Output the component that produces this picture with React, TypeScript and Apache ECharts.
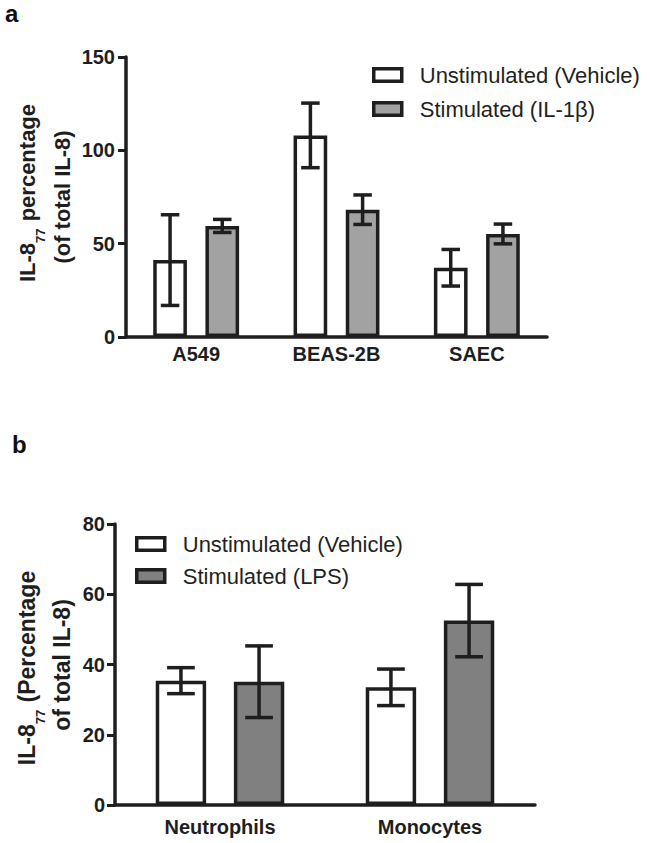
import React, { useEffect, useRef } from "react";
import * as echarts from "echarts";

// ---- Panel a data ----
const catsA = ["A549", "BEAS-2B", "SAEC"];
const unstimA = [41.2, 108, 37.1];
const unstimAErr = [24.3, 17.3, 9.8];
const stimA = [59.5, 68.2, 55.2];
const stimAErr = [3.5, 7.9, 5.3];
const yTicksA = { min: 0, max: 150, interval: 50 };
const namesA = ["Unstimulated (Vehicle)", "Stimulated (IL-1β)"];

// ---- Panel b data ----
const catsB = ["Neutrophils", "Monocytes"];
const unstimB = [35.4, 33.5];
const unstimBErr = [3.7, 5.2];
const stimB = [35.1, 52.5];
const stimBErr = [10.2, 10.3];
const yTicksB = { min: 0, max: 80, interval: 20 };
const namesB = ["Unstimulated (Vehicle)", "Stimulated (LPS)"];

const FONT = "'Liberation Sans', Arial, Helvetica, sans-serif";
const INK = "#1e1e1e";
const WHITE = "#ffffff";
const GRAY_A = "#a2a2a3";
const GRAY_B = "#7f807f";
const BAR_W = "24%";
const BAR_GAP = "55%";
const LINE_W = 3.5;

function errData(means: number[], errs: number[]) {
  return means.map((m, i) => [i, m, errs[i]]);
}

function makeErrRender(side: number) {
  return (params: any, api: any) => {
    const idx = api.value(0);
    const mean = api.value(1);
    const e = api.value(2);
    const band = api.size([1, 0])[0];
    const off = side * band * 0.186;
    const halfCap = band * 0.066;
    const top = api.coord([idx, mean + e]);
    const bot = api.coord([idx, mean - e]);
    const x = top[0] + off;
    const st = { stroke: INK, lineWidth: LINE_W, fill: null };
    return {
      type: "group",
      children: [
        { type: "line", shape: { x1: x, y1: top[1], x2: x, y2: bot[1] }, style: st },
        { type: "line", shape: { x1: x - halfCap, y1: top[1], x2: x + halfCap, y2: top[1] }, style: st },
        { type: "line", shape: { x1: x - halfCap, y1: bot[1], x2: x + halfCap, y2: bot[1] }, style: st },
      ],
    };
  };
}

const axisLabelBold = { color: INK, fontFamily: FONT, fontWeight: "bold", fontSize: 20 };

function yLabel(x: number, y: number, text: string, size: number) {
  return {
    type: "text",
    x,
    y,
    rotation: Math.PI / 2,
    style: {
      text,
      fill: INK,
      font: `bold ${size}px ${FONT}`,
      align: "center",
      verticalAlign: "middle",
      rich: {
        m: { fontFamily: FONT, fontWeight: "bold", fontSize: size, fill: INK, lineHeight: size },
        sub: {
          fontFamily: FONT,
          fontWeight: "bold",
          fontSize: 13,
          fill: INK,
          lineHeight: 13,
          verticalAlign: "top",
          padding: [18, 1, 0, 0],
        },
      },
    },
  };
}

export default function App() {
  const ref = useRef<HTMLDivElement>(null);
  useEffect(() => {
    if (!ref.current) return;
    const chart = echarts.init(ref.current, undefined, { renderer: "svg" });
    const legendBase = {
      orient: "vertical",
      icon: "rect",
      itemWidth: 28,
      itemHeight: 12.5,
      padding: 0,
      selectedMode: false,
      textStyle: {
        fontFamily: FONT,
        fontSize: 22,
        color: "#231f20",
        lineHeight: 22,
        padding: [0, 0, 0, 13],
      },
    };
    const option: any = {
      animation: false,
      backgroundColor: "#ffffff",
      grid: [
        { left: 126, top: 57, width: 421, height: 280 },
        { left: 115, top: 524, width: 420, height: 281 },
      ],
      legend: [
        {
          ...legendBase,
          left: 372,
          top: 64,
          itemGap: 12,
          data: [
            { name: namesA[0], itemStyle: { color: WHITE, borderColor: INK, borderWidth: LINE_W } },
            { name: namesA[1], itemStyle: { color: GRAY_A, borderColor: INK, borderWidth: LINE_W } },
          ],
        },
        {
          ...legendBase,
          left: 135,
          top: 533,
          itemGap: 10,
          data: [
            { name: namesB[0], itemStyle: { color: WHITE, borderColor: INK, borderWidth: LINE_W } },
            { name: namesB[1], itemStyle: { color: GRAY_B, borderColor: INK, borderWidth: LINE_W } },
          ],
        },
      ],
      xAxis: [
        {
          type: "category",
          gridIndex: 0,
          data: catsA,
          axisLine: { lineStyle: { color: INK, width: LINE_W } },
          axisTick: { alignWithLabel: true, length: 8, lineStyle: { color: INK, width: 3 } },
          axisLabel: { ...axisLabelBold, margin: 7 },
        },
        {
          type: "category",
          gridIndex: 1,
          data: catsB,
          axisLine: { lineStyle: { color: INK, width: LINE_W } },
          axisTick: { alignWithLabel: true, length: 8, lineStyle: { color: INK, width: 3 } },
          axisLabel: { ...axisLabelBold, margin: 12 },
        },
      ],
      yAxis: [
        {
          type: "value",
          gridIndex: 0,
          ...yTicksA,
          splitLine: { show: false },
          axisLine: { show: true, lineStyle: { color: INK, width: LINE_W } },
          axisTick: { show: true, length: 8, lineStyle: { color: INK, width: 3 } },
          axisLabel: { ...axisLabelBold, margin: 11 },
        },
        {
          type: "value",
          gridIndex: 1,
          ...yTicksB,
          splitLine: { show: false },
          axisLine: { show: true, lineStyle: { color: INK, width: LINE_W } },
          axisTick: { show: true, length: 8, lineStyle: { color: INK, width: 3 } },
          axisLabel: { ...axisLabelBold, margin: 10 },
        },
      ],
      series: [
        {
          type: "bar",
          name: namesA[0],
          xAxisIndex: 0,
          yAxisIndex: 0,
          data: unstimA,
          barWidth: BAR_W,
          barGap: BAR_GAP,
          itemStyle: { color: WHITE, borderColor: INK, borderWidth: LINE_W },
        },
        {
          type: "bar",
          name: namesA[1],
          xAxisIndex: 0,
          yAxisIndex: 0,
          data: stimA,
          barWidth: BAR_W,
          barGap: BAR_GAP,
          itemStyle: { color: GRAY_A, borderColor: INK, borderWidth: LINE_W },
        },
        {
          type: "custom",
          xAxisIndex: 0,
          yAxisIndex: 0,
          z: 5,
          data: errData(unstimA, unstimAErr),
          encode: { x: 0, y: 1 },
          renderItem: makeErrRender(-1),
        },
        {
          type: "custom",
          xAxisIndex: 0,
          yAxisIndex: 0,
          z: 5,
          data: errData(stimA, stimAErr),
          encode: { x: 0, y: 1 },
          renderItem: makeErrRender(1),
        },
        {
          type: "bar",
          name: namesB[0],
          xAxisIndex: 1,
          yAxisIndex: 1,
          data: unstimB,
          barWidth: BAR_W,
          barGap: BAR_GAP,
          itemStyle: { color: WHITE, borderColor: INK, borderWidth: LINE_W },
        },
        {
          type: "bar",
          name: namesB[1],
          xAxisIndex: 1,
          yAxisIndex: 1,
          data: stimB,
          barWidth: BAR_W,
          barGap: BAR_GAP,
          itemStyle: { color: GRAY_B, borderColor: INK, borderWidth: LINE_W },
        },
        {
          type: "custom",
          xAxisIndex: 1,
          yAxisIndex: 1,
          z: 5,
          data: errData(unstimB, unstimBErr),
          encode: { x: 0, y: 1 },
          renderItem: makeErrRender(-1),
        },
        {
          type: "custom",
          xAxisIndex: 1,
          yAxisIndex: 1,
          z: 5,
          data: errData(stimB, stimBErr),
          encode: { x: 0, y: 1 },
          renderItem: makeErrRender(1),
        },
      ],
      graphic: [
        {
          type: "text",
          x: 5,
          y: 13,
          style: { text: "a", fill: "#111", font: `bold 24px ${FONT}`, verticalAlign: "middle" },
        },
        {
          type: "text",
          x: 12,
          y: 444,
          style: { text: "b", fill: "#111", font: `bold 24px ${FONT}`, verticalAlign: "middle" },
        },
        yLabel(27.4, 193, "{m|IL-8}{sub|77}{m| percentage}", 22),
        yLabel(62.4, 197, "{m|(of total IL-8)}", 22),
        yLabel(27, 668, "{m|IL-8}{sub|77}{m| (Percentage}", 23),
        yLabel(62, 665, "{m|of total IL-8)}", 23),
      ],
    };
    chart.setOption(option);
    return () => chart.dispose();
  }, []);
  return (
    <div
      ref={ref}
      style={{ position: "absolute", left: 0, top: 0, width: 650, height: 843, background: "#fff" }}
    />
  );
}
